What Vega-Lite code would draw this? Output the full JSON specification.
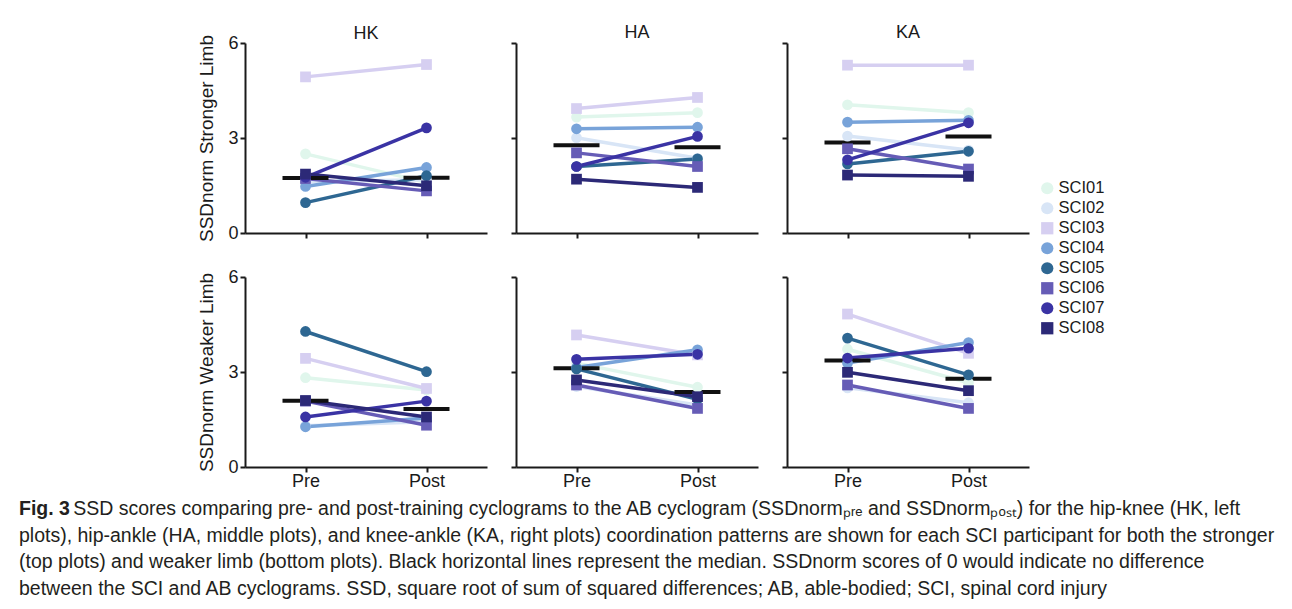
{
  "$schema": "https://vega.github.io/schema/vega-lite/v6.json",
  "padding": {"left": 18, "top": 24, "right": 8, "bottom": 6},
  "background": "white",
  "data": {"values": [
    {"subject":"SCI01","pattern":"HK","limb":"Stronger","time":"Pre","value":2.50},{"subject":"SCI01","pattern":"HK","limb":"Stronger","time":"Post","value":1.60},
    {"subject":"SCI02","pattern":"HK","limb":"Stronger","time":"Pre","value":1.62},{"subject":"SCI02","pattern":"HK","limb":"Stronger","time":"Post","value":1.68},
    {"subject":"SCI03","pattern":"HK","limb":"Stronger","time":"Pre","value":4.93},{"subject":"SCI03","pattern":"HK","limb":"Stronger","time":"Post","value":5.32},
    {"subject":"SCI04","pattern":"HK","limb":"Stronger","time":"Pre","value":1.47},{"subject":"SCI04","pattern":"HK","limb":"Stronger","time":"Post","value":2.07},
    {"subject":"SCI05","pattern":"HK","limb":"Stronger","time":"Pre","value":0.96},{"subject":"SCI05","pattern":"HK","limb":"Stronger","time":"Post","value":1.81},
    {"subject":"SCI06","pattern":"HK","limb":"Stronger","time":"Pre","value":1.72},{"subject":"SCI06","pattern":"HK","limb":"Stronger","time":"Post","value":1.33},
    {"subject":"SCI07","pattern":"HK","limb":"Stronger","time":"Pre","value":1.76},{"subject":"SCI07","pattern":"HK","limb":"Stronger","time":"Post","value":3.32},
    {"subject":"SCI08","pattern":"HK","limb":"Stronger","time":"Pre","value":1.86},{"subject":"SCI08","pattern":"HK","limb":"Stronger","time":"Post","value":1.49},

    {"subject":"SCI01","pattern":"HA","limb":"Stronger","time":"Pre","value":3.66},{"subject":"SCI01","pattern":"HA","limb":"Stronger","time":"Post","value":3.80},
    {"subject":"SCI02","pattern":"HA","limb":"Stronger","time":"Pre","value":3.01},{"subject":"SCI02","pattern":"HA","limb":"Stronger","time":"Post","value":2.36},
    {"subject":"SCI03","pattern":"HA","limb":"Stronger","time":"Pre","value":3.93},{"subject":"SCI03","pattern":"HA","limb":"Stronger","time":"Post","value":4.28},
    {"subject":"SCI04","pattern":"HA","limb":"Stronger","time":"Pre","value":3.29},{"subject":"SCI04","pattern":"HA","limb":"Stronger","time":"Post","value":3.34},
    {"subject":"SCI05","pattern":"HA","limb":"Stronger","time":"Pre","value":2.10},{"subject":"SCI05","pattern":"HA","limb":"Stronger","time":"Post","value":2.34},
    {"subject":"SCI06","pattern":"HA","limb":"Stronger","time":"Pre","value":2.53},{"subject":"SCI06","pattern":"HA","limb":"Stronger","time":"Post","value":2.10},
    {"subject":"SCI07","pattern":"HA","limb":"Stronger","time":"Pre","value":2.10},{"subject":"SCI07","pattern":"HA","limb":"Stronger","time":"Post","value":3.05},
    {"subject":"SCI08","pattern":"HA","limb":"Stronger","time":"Pre","value":1.70},{"subject":"SCI08","pattern":"HA","limb":"Stronger","time":"Post","value":1.44},

    {"subject":"SCI01","pattern":"KA","limb":"Stronger","time":"Pre","value":4.05},{"subject":"SCI01","pattern":"KA","limb":"Stronger","time":"Post","value":3.80},
    {"subject":"SCI02","pattern":"KA","limb":"Stronger","time":"Pre","value":3.06},{"subject":"SCI02","pattern":"KA","limb":"Stronger","time":"Post","value":2.62},
    {"subject":"SCI03","pattern":"KA","limb":"Stronger","time":"Pre","value":5.30},{"subject":"SCI03","pattern":"KA","limb":"Stronger","time":"Post","value":5.30},
    {"subject":"SCI04","pattern":"KA","limb":"Stronger","time":"Pre","value":3.50},{"subject":"SCI04","pattern":"KA","limb":"Stronger","time":"Post","value":3.56},
    {"subject":"SCI05","pattern":"KA","limb":"Stronger","time":"Pre","value":2.18},{"subject":"SCI05","pattern":"KA","limb":"Stronger","time":"Post","value":2.58},
    {"subject":"SCI06","pattern":"KA","limb":"Stronger","time":"Pre","value":2.66},{"subject":"SCI06","pattern":"KA","limb":"Stronger","time":"Post","value":2.02},
    {"subject":"SCI07","pattern":"KA","limb":"Stronger","time":"Pre","value":2.31},{"subject":"SCI07","pattern":"KA","limb":"Stronger","time":"Post","value":3.48},
    {"subject":"SCI08","pattern":"KA","limb":"Stronger","time":"Pre","value":1.83},{"subject":"SCI08","pattern":"KA","limb":"Stronger","time":"Post","value":1.79},

    {"subject":"SCI01","pattern":"HK","limb":"Weaker","time":"Pre","value":2.82},{"subject":"SCI01","pattern":"HK","limb":"Weaker","time":"Post","value":2.43},
    {"subject":"SCI02","pattern":"HK","limb":"Weaker","time":"Pre","value":1.30},{"subject":"SCI02","pattern":"HK","limb":"Weaker","time":"Post","value":1.43},
    {"subject":"SCI03","pattern":"HK","limb":"Weaker","time":"Pre","value":3.43},{"subject":"SCI03","pattern":"HK","limb":"Weaker","time":"Post","value":2.48},
    {"subject":"SCI04","pattern":"HK","limb":"Weaker","time":"Pre","value":1.27},{"subject":"SCI04","pattern":"HK","limb":"Weaker","time":"Post","value":1.55},
    {"subject":"SCI05","pattern":"HK","limb":"Weaker","time":"Pre","value":4.28},{"subject":"SCI05","pattern":"HK","limb":"Weaker","time":"Post","value":3.01},
    {"subject":"SCI06","pattern":"HK","limb":"Weaker","time":"Pre","value":2.08},{"subject":"SCI06","pattern":"HK","limb":"Weaker","time":"Post","value":1.32},
    {"subject":"SCI07","pattern":"HK","limb":"Weaker","time":"Pre","value":1.58},{"subject":"SCI07","pattern":"HK","limb":"Weaker","time":"Post","value":2.08},
    {"subject":"SCI08","pattern":"HK","limb":"Weaker","time":"Pre","value":2.10},{"subject":"SCI08","pattern":"HK","limb":"Weaker","time":"Post","value":1.58},

    {"subject":"SCI01","pattern":"HA","limb":"Weaker","time":"Pre","value":3.28},{"subject":"SCI01","pattern":"HA","limb":"Weaker","time":"Post","value":2.52},
    {"subject":"SCI02","pattern":"HA","limb":"Weaker","time":"Pre","value":2.54},{"subject":"SCI02","pattern":"HA","limb":"Weaker","time":"Post","value":1.96},
    {"subject":"SCI03","pattern":"HA","limb":"Weaker","time":"Pre","value":4.17},{"subject":"SCI03","pattern":"HA","limb":"Weaker","time":"Post","value":3.54},
    {"subject":"SCI04","pattern":"HA","limb":"Weaker","time":"Pre","value":3.14},{"subject":"SCI04","pattern":"HA","limb":"Weaker","time":"Post","value":3.70},
    {"subject":"SCI05","pattern":"HA","limb":"Weaker","time":"Pre","value":3.10},{"subject":"SCI05","pattern":"HA","limb":"Weaker","time":"Post","value":2.14},
    {"subject":"SCI06","pattern":"HA","limb":"Weaker","time":"Pre","value":2.59},{"subject":"SCI06","pattern":"HA","limb":"Weaker","time":"Post","value":1.85},
    {"subject":"SCI07","pattern":"HA","limb":"Weaker","time":"Pre","value":3.40},{"subject":"SCI07","pattern":"HA","limb":"Weaker","time":"Post","value":3.56},
    {"subject":"SCI08","pattern":"HA","limb":"Weaker","time":"Pre","value":2.75},{"subject":"SCI08","pattern":"HA","limb":"Weaker","time":"Post","value":2.22},

    {"subject":"SCI01","pattern":"KA","limb":"Weaker","time":"Pre","value":3.72},{"subject":"SCI01","pattern":"KA","limb":"Weaker","time":"Post","value":2.66},
    {"subject":"SCI02","pattern":"KA","limb":"Weaker","time":"Pre","value":2.50},{"subject":"SCI02","pattern":"KA","limb":"Weaker","time":"Post","value":2.03},
    {"subject":"SCI03","pattern":"KA","limb":"Weaker","time":"Pre","value":4.83},{"subject":"SCI03","pattern":"KA","limb":"Weaker","time":"Post","value":3.59},
    {"subject":"SCI04","pattern":"KA","limb":"Weaker","time":"Pre","value":3.28},{"subject":"SCI04","pattern":"KA","limb":"Weaker","time":"Post","value":3.93},
    {"subject":"SCI05","pattern":"KA","limb":"Weaker","time":"Pre","value":4.07},{"subject":"SCI05","pattern":"KA","limb":"Weaker","time":"Post","value":2.91},
    {"subject":"SCI06","pattern":"KA","limb":"Weaker","time":"Pre","value":2.59},{"subject":"SCI06","pattern":"KA","limb":"Weaker","time":"Post","value":1.85},
    {"subject":"SCI07","pattern":"KA","limb":"Weaker","time":"Pre","value":3.44},{"subject":"SCI07","pattern":"KA","limb":"Weaker","time":"Post","value":3.75},
    {"subject":"SCI08","pattern":"KA","limb":"Weaker","time":"Pre","value":2.99},{"subject":"SCI08","pattern":"KA","limb":"Weaker","time":"Post","value":2.41}
  ]},
  "title": {
    "text": "Fig. 3",
    "subtitle": [
      "\u200b\u00a0\u00a0\u00a0\u00a0\u00a0\u00a0\u00a0\u00a0\u00a0\u00a0SSD scores comparing pre- and post-training cyclograms to the AB cyclogram (SSDnorm\u209a\u1d63\u2091 and SSDnorm\u209a\u2092\u209b\u209c) for the hip-knee (HK, left",
      "plots), hip-ankle (HA, middle plots), and knee-ankle (KA, right plots) coordination patterns are shown for each SCI participant for both the stronger",
      "(top plots) and weaker limb (bottom plots). Black horizontal lines represent the median. SSDnorm scores of 0 would indicate no difference",
      "between the SCI and AB cyclograms. SSD, square root of sum of squared differences; AB, able-bodied; SCI, spinal cord injury"
    ],
    "orient": "bottom",
    "anchor": "start",
    "frame": "bounds",
    "dx": -179,
    "offset": 10,
    "font": "Liberation Sans",
    "fontSize": 19.5,
    "fontWeight": "bold",
    "color": "#231f20",
    "subtitleFont": "Liberation Sans",
    "subtitleFontSize": 19.5,
    "subtitleFontWeight": "normal",
    "subtitleColor": "#231f20",
    "subtitleLineHeight": 26.5,
    "subtitlePadding": -19.5
  },
  "config": {
    "font": "Liberation Sans",
    "view": {"stroke": null},
    "range": {
      "category": ["#e0f6ec", "#d8e5f6", "#d6cff1", "#78a3d9", "#2e6792", "#665cb6", "#3a33a4", "#2c2977"],
      "symbol": ["circle", "circle", "square", "circle", "circle", "square", "circle", "square"]
    },
    "axis": {
      "grid": false,
      "domainColor": "#1a1a1a",
      "domainWidth": 2,
      "tickColor": "#1a1a1a",
      "tickWidth": 2,
      "tickSize": 5,
      "labelFont": "Liberation Sans",
      "labelFontSize": 18,
      "labelColor": "#1a1a1a",
      "labelPadding": 2,
      "titleFont": "Liberation Sans",
      "titleFontSize": 19,
      "titleFontWeight": "normal",
      "titleColor": "#1a1a1a"
    },
    "legend": {
      "labelFont": "Liberation Sans",
      "labelFontSize": 16.5,
      "labelColor": "#1a1a1a",
      "symbolSize": 150,
      "symbolStrokeWidth": 0,
      "rowPadding": 3,
      "labelOffset": 3
    }
  },
  "spacing": 26,
  "vconcat": [
    {
      "spacing": 23,
      "hconcat": [
        {
          "width": 242, "height": 190,
          "title": {"text": "HK", "fontSize": 18, "fontWeight": "normal", "color": "#1a1a1a", "offset": -9, "frame": "group"},
          "transform": [{"filter": "datum.pattern == 'HK' && datum.limb == 'Stronger'"}],
          "encoding": {
            "x": {"field": "time", "type": "ordinal", "scale": {"type": "point", "domain": ["Pre", "Post"], "padding": 0.5}, "axis": {"title": null, "labels": false}},
            "y": {"field": "value", "type": "quantitative", "scale": {"domain": [0, 6], "nice": false}, "axis": {"values": [0, 3, 6], "title": "SSDnorm Stronger Limb", "titlePadding": 11}}
          },
          "layer": [
            {"mark": {"type": "line", "strokeWidth": 3.5}, "encoding": {"stroke": {"field": "subject", "type": "nominal", "legend": null}}},
            {"transform": [{"aggregate": [{"op": "median", "field": "value", "as": "value"}], "groupby": ["time"]}], "mark": {"type": "tick", "color": "#111111", "opacity": 1, "size": 46, "thickness": 4, "orient": "horizontal"}},
            {"mark": {"type": "point", "filled": true, "opacity": 1, "size": 115}, "encoding": {
              "color": {"field": "subject", "type": "nominal", "legend": {"title": null, "orient": "none", "legendX": 794, "legendY": 137}},
              "shape": {"field": "subject", "type": "nominal", "legend": {"title": null, "orient": "none", "legendX": 794, "legendY": 137}}
            }}
          ]
        },
        {
          "width": 242, "height": 190,
          "title": {"text": "HA", "fontSize": 18, "fontWeight": "normal", "color": "#1a1a1a", "offset": 0, "frame": "group"},
          "transform": [{"filter": "datum.pattern == 'HA' && datum.limb == 'Stronger'"}],
          "encoding": {
            "x": {"field": "time", "type": "ordinal", "scale": {"type": "point", "domain": ["Pre", "Post"], "padding": 0.5}, "axis": {"title": null, "labels": false}},
            "y": {"field": "value", "type": "quantitative", "scale": {"domain": [0, 6], "nice": false}, "axis": {"values": [0, 3, 6], "title": null, "labels": false}}
          },
          "layer": [
            {"mark": {"type": "line", "strokeWidth": 3.5}, "encoding": {"stroke": {"field": "subject", "type": "nominal", "legend": null}}},
            {"transform": [{"aggregate": [{"op": "median", "field": "value", "as": "value"}], "groupby": ["time"]}], "mark": {"type": "tick", "color": "#111111", "opacity": 1, "size": 46, "thickness": 4, "orient": "horizontal"}},
            {"mark": {"type": "point", "filled": true, "opacity": 1, "size": 115}, "encoding": {
              "color": {"field": "subject", "type": "nominal"},
              "shape": {"field": "subject", "type": "nominal"}
            }}
          ]
        },
        {
          "width": 242, "height": 190,
          "title": {"text": "KA", "fontSize": 18, "fontWeight": "normal", "color": "#1a1a1a", "offset": 0, "frame": "group"},
          "transform": [{"filter": "datum.pattern == 'KA' && datum.limb == 'Stronger'"}],
          "encoding": {
            "x": {"field": "time", "type": "ordinal", "scale": {"type": "point", "domain": ["Pre", "Post"], "padding": 0.5}, "axis": {"title": null, "labels": false}},
            "y": {"field": "value", "type": "quantitative", "scale": {"domain": [0, 6], "nice": false}, "axis": {"values": [0, 3, 6], "title": null, "labels": false}}
          },
          "layer": [
            {"mark": {"type": "line", "strokeWidth": 3.5}, "encoding": {"stroke": {"field": "subject", "type": "nominal", "legend": null}}},
            {"transform": [{"aggregate": [{"op": "median", "field": "value", "as": "value"}], "groupby": ["time"]}], "mark": {"type": "tick", "color": "#111111", "opacity": 1, "size": 46, "thickness": 4, "orient": "horizontal"}},
            {"mark": {"type": "point", "filled": true, "opacity": 1, "size": 115}, "encoding": {
              "color": {"field": "subject", "type": "nominal"},
              "shape": {"field": "subject", "type": "nominal"}
            }}
          ]
        }
      ]
    },
    {
      "spacing": 23,
      "hconcat": [
        {
          "width": 242, "height": 190,
          "transform": [{"filter": "datum.pattern == 'HK' && datum.limb == 'Weaker'"}],
          "encoding": {
            "x": {"field": "time", "type": "ordinal", "scale": {"type": "point", "domain": ["Pre", "Post"], "padding": 0.5}, "axis": {"title": null, "labelAngle": 0, "labelPadding": 0}},
            "y": {"field": "value", "type": "quantitative", "scale": {"domain": [0, 6], "nice": false}, "axis": {"values": [0, 3, 6], "title": "SSDnorm Weaker Limb", "titlePadding": 11}}
          },
          "layer": [
            {"mark": {"type": "line", "strokeWidth": 3.5}, "encoding": {"stroke": {"field": "subject", "type": "nominal", "legend": null}}},
            {"transform": [{"aggregate": [{"op": "median", "field": "value", "as": "value"}], "groupby": ["time"]}], "mark": {"type": "tick", "color": "#111111", "opacity": 1, "size": 46, "thickness": 4, "orient": "horizontal"}},
            {"mark": {"type": "point", "filled": true, "opacity": 1, "size": 115}, "encoding": {
              "color": {"field": "subject", "type": "nominal"},
              "shape": {"field": "subject", "type": "nominal"}
            }}
          ]
        },
        {
          "width": 242, "height": 190,
          "transform": [{"filter": "datum.pattern == 'HA' && datum.limb == 'Weaker'"}],
          "encoding": {
            "x": {"field": "time", "type": "ordinal", "scale": {"type": "point", "domain": ["Pre", "Post"], "padding": 0.5}, "axis": {"title": null, "labelAngle": 0, "labelPadding": 0}},
            "y": {"field": "value", "type": "quantitative", "scale": {"domain": [0, 6], "nice": false}, "axis": {"values": [0, 3, 6], "title": null, "labels": false}}
          },
          "layer": [
            {"mark": {"type": "line", "strokeWidth": 3.5}, "encoding": {"stroke": {"field": "subject", "type": "nominal", "legend": null}}},
            {"transform": [{"aggregate": [{"op": "median", "field": "value", "as": "value"}], "groupby": ["time"]}], "mark": {"type": "tick", "color": "#111111", "opacity": 1, "size": 46, "thickness": 4, "orient": "horizontal"}},
            {"mark": {"type": "point", "filled": true, "opacity": 1, "size": 115}, "encoding": {
              "color": {"field": "subject", "type": "nominal"},
              "shape": {"field": "subject", "type": "nominal"}
            }}
          ]
        },
        {
          "width": 242, "height": 190,
          "transform": [{"filter": "datum.pattern == 'KA' && datum.limb == 'Weaker'"}],
          "encoding": {
            "x": {"field": "time", "type": "ordinal", "scale": {"type": "point", "domain": ["Pre", "Post"], "padding": 0.5}, "axis": {"title": null, "labelAngle": 0, "labelPadding": 0}},
            "y": {"field": "value", "type": "quantitative", "scale": {"domain": [0, 6], "nice": false}, "axis": {"values": [0, 3, 6], "title": null, "labels": false}}
          },
          "layer": [
            {"mark": {"type": "line", "strokeWidth": 3.5}, "encoding": {"stroke": {"field": "subject", "type": "nominal", "legend": null}}},
            {"transform": [{"aggregate": [{"op": "median", "field": "value", "as": "value"}], "groupby": ["time"]}], "mark": {"type": "tick", "color": "#111111", "opacity": 1, "size": 46, "thickness": 4, "orient": "horizontal"}},
            {"mark": {"type": "point", "filled": true, "opacity": 1, "size": 115}, "encoding": {
              "color": {"field": "subject", "type": "nominal"},
              "shape": {"field": "subject", "type": "nominal"}
            }}
          ]
        }
      ]
    }
  ]
}
